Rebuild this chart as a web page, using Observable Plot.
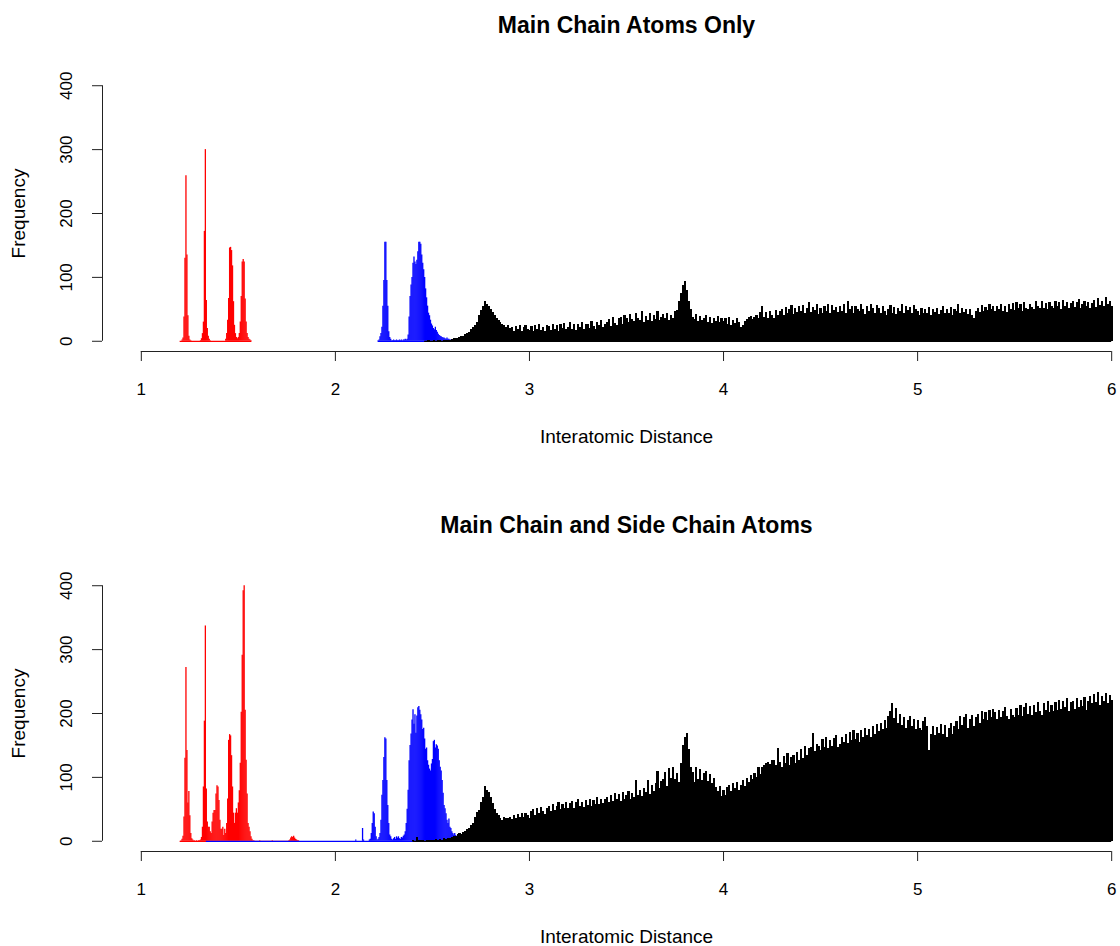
<!DOCTYPE html>
<html><head><meta charset="utf-8">
<script src="https://cdn.jsdelivr.net/npm/d3@7"></script>
<script src="https://cdn.jsdelivr.net/npm/@observablehq/plot@0.6"></script>
<style>
html,body{margin:0;padding:0;background:#fff;overflow:hidden;}
#chart{width:1120px;height:946px;overflow:hidden;position:relative;background:#fff;}
#chart svg{display:block;max-width:none !important;}
</style></head><body><div id="chart"></div>
<script>
// ---------- data ----------
const xTicks = [1, 2, 3, 4, 5, 6];
const yTicks = [0, 100, 200, 300, 400];
const titles = ["Main Chain Atoms Only", "Main Chain and Side Chain Atoms"];
const xLabel = "Interatomic Distance";
const yLabel = "Frequency";

const fineStep = 0.005;   // bin width of coloured series
const coarseStep = 0.01;  // bin width of black series

// Top panel
const topRedStart = 1.20;
const topRed = [0,0,2,5,38,130,259,135,40,8,2,1,
  0,0,0,0,0,0,0,0,0,
  1,4,12,30,172,300,64,20,8,3,1,
  0,0,0,0,0,0,0,0,0,0,0,0,0,0,0,
  3,12,33,67,146,147,142,118,62,25,12,6,4,
  6,12,30,70,124,128,124,66,30,12,6,3,2,1,0];
const topBlueStart = 2.22;
const topBlue = [1,2,7,12,22,55,95,155,155,95,55,15,6,3,1,
  1,2,1,1,2,1,1,2,1,2,1,2,2,3,2,
  3,10,38,70,88,100,122,132,124,120,127,140,155,155,152,135,122,112,100,82,68,55,44,40,33,27,24,20,18,22,17,14,11,9,8,7,6,5,5,4,3,5,3,
  3,2,2,1,2,1,1,1,2,1,1,0,1,1,0,1,0,1,0,1,0,0,1,0];
const topBlackStart = 2.46;
const topBlack = [0,0,1,0,0,1,0,1,1,0,1,2,1,2,
  3,4,5,5,6,8,7,10,12,14,
  18,22,25,30,40,48,55,62,58,55,
  50,45,40,36,33,30,26,24,22,24,
  20,22,16,23,18,24,15,21,25,18,
  17,23,15,24,19,26,17,22,16,25,
  23,17,27,19,25,16,26,20,28,18,
  21,29,19,26,17,27,22,30,18,26,
  27,20,31,23,19,29,24,32,21,27,
  29,34,23,37,28,25,35,38,27,40,
  35,29,42,34,31,44,36,33,46,30,
  39,33,43,31,41,34,47,32,38,42,
  35,44,32,41,36,46,48,62,75,88,
  93,80,62,50,38,34,42,31,39,33,
  35,40,30,38,28,36,31,39,29,35,
  31,35,26,37,25,32,28,36,29,22,
  25,31,34,37,39,34,38,41,35,45,
  54,38,45,36,47,40,35,48,41,46,
  50,40,53,44,49,56,42,51,45,55,
  47,56,43,52,60,45,53,48,57,42,
  52,44,55,47,58,43,56,48,53,45,
  55,46,58,44,62,49,55,43,54,50,
  46,57,49,42,55,47,58,52,44,56,
  51,43,55,47,41,50,56,44,53,42,
  52,46,57,43,54,48,53,44,56,49,
  47,41,52,44,50,43,53,40,49,45,
  52,42,48,55,43,50,44,53,41,49,
  46,57,43,51,45,50,42,49,40,35,
  47,52,45,56,46,53,48,57,49,54,
  46,55,49,58,47,54,45,57,50,59,
  48,60,51,57,47,61,52,49,58,53,
  50,62,54,51,63,52,59,49,61,54,
  51,63,55,60,50,64,54,61,52,59,
  62,53,60,65,52,58,63,54,61,51,
  59,64,53,67,56,62,54,68,57,63,
  55];

// Bottom panel
const botRedStart = 1.20;
const botRed = [0,1,3,8,38,130,272,142,60,78,40,12,
  4,2,1,1,0,1,0,1,1,
  2,6,22,85,188,337,
  82,30,22,22,15,12,30,44,48,48,74,87,85,64,33,19,19,22,9,19,12,28,
  66,158,167,165,134,85,44,28,44,51,44,60,79,122,202,291,392,400,205,127,74,28,22,15,7,3,1,1,
  0,0,0,0,0,1,0,0,0,0,0,0,0,0,0,0,0,0,1,0,0,0,0,0,0,0,0,0,0,0,0,0,0,0,0,1,
  2,5,7,6,8,5,3,2,1,1];
const botBlueStart = 2.10;
const botBlueBaseFrom = 1.335;
const botBlue = [0,2,0,0,0,0,0,0,20,2,0,0,0,0,0,2,
  3,12,28,46,43,22,7,2,3,6,12,33,72,95,131,162,160,95,56,28,10,7,3,2,4,6,3,7,5,7,4,3,6,5,8,10,
  15,28,50,80,126,150,168,190,206,183,198,169,196,209,211,205,198,190,175,177,160,144,146,126,119,113,110,121,128,156,158,146,151,149,144,126,116,110,95,75,56,51,43,33,28,35,22,20,15,12,10,12,9,7,8,7,6,5,
  5,6,12,6,5,4,3,2,2,2,1];
const botBlackStart = 2.40;
const botBlack = [1,0,6,1,2,1,0,2,1,2,
  2,1,3,2,3,2,4,3,5,4,
  6,7,8,10,12,11,14,15,18,20,
  24,28,38,45,48,60,69,86,80,77,
  69,59,50,43,40,36,33,38,35,36,
  38,34,41,36,42,38,44,37,43,40,
  36,46,49,40,51,43,53,46,42,52,
  55,46,58,48,55,60,49,58,52,61,
  51,59,63,52,60,65,54,61,53,64,
  56,66,55,64,58,68,57,66,59,65,
  68,60,72,62,75,65,73,63,76,66,
  72,78,66,75,69,95,72,80,70,83,
  76,95,74,88,78,90,110,82,93,97,
  108,86,114,98,116,96,106,92,121,150,
  163,169,144,116,108,92,115,97,113,95,
  106,110,93,104,91,99,84,78,86,70,
  80,72,84,88,78,90,82,92,80,88,
  95,86,99,92,103,96,106,100,115,104,
  115,118,121,124,120,127,126,118,146,123,
  115,133,122,137,119,131,135,121,139,127,
  143,129,148,135,145,147,168,141,151,149,
  142,159,147,163,145,158,149,161,165,147,
  152,163,155,167,153,171,157,173,159,169,
  155,173,162,177,165,175,163,179,167,183,
  172,185,175,189,177,195,203,216,192,208,
  185,199,181,193,177,189,195,179,191,175,
  189,177,173,187,193,179,142,167,179,165,
  178,169,183,167,181,163,177,185,167,179,
  187,175,195,182,193,199,177,191,197,179,
  193,199,185,203,191,201,189,205,193,207,
  201,191,205,193,203,209,195,191,207,197,
  193,208,197,213,195,209,215,199,211,197,
  213,201,217,203,197,215,205,219,201,213,
  203,217,205,221,207,219,209,223,203,217,
  219,207,223,209,221,211,225,205,219,227,
  215,229,217,233,213,227,219,231,215,228,
  220];

// ---------- drawing ----------
const FONT = "'Liberation Sans', Arial, Helvetica, sans-serif";
const xDomain = [0.8, 6.2];
const yDomain = [-16, 416];

function rows(start, step, values) {
  return values.map((v, i) => ({x: +(start + i * step).toFixed(4), y: v}));
}

function seriesMarks(data, color, width, baseFrom, crisp) {
  const from = baseFrom ?? data[0].x;
  return [
    Plot.ruleY([0], {x1: from, x2: data[data.length - 1].x, stroke: color, strokeWidth: 1.3}),
    Plot.ruleX(data, {x: "x", y1: 0, y2: "y", stroke: color, strokeWidth: width,
      shapeRendering: crisp ? "crispEdges" : "auto"})
  ];
}

function panel(title, red, blue, black, height, blueBaseFrom) {
  const top = 75, bottom = 351;
  return Plot.plot({
    width: 1150, height,
    marginLeft: 102, marginRight: 0, marginTop: top, marginBottom: height - bottom,
    x: {domain: xDomain, axis: null},
    y: {domain: yDomain, axis: null},
    style: `max-width:none;background:white;color:black;font-family:${FONT};font-size:17px;overflow:visible;`,
    marks: [
      ...seriesMarks(red, "#ff0000", 1.3),
      ...seriesMarks(blue, "#0000ff", 1.3, blueBaseFrom),
      ...seriesMarks(black, "#000000", 2.2, undefined, true),
      // x axis
      Plot.ruleY([yDomain[0]], {x1: xTicks[0], x2: xTicks[xTicks.length - 1], stroke: "#222", strokeWidth: 1}),
      Plot.axisX(xTicks, {tickSize: 10, tickPadding: 21, fontSize: 17, label: null, stroke: "#222",
        fill: "black", tickFormat: d => String(d)}),
      // y axis
      Plot.ruleX([xDomain[0]], {y1: yTicks[0], y2: yTicks[yTicks.length - 1], stroke: "#222", strokeWidth: 1}),
      Plot.axisY(yTicks, {tickSize: 10, tickFormat: () => "", label: null, stroke: "#222"}),
      Plot.text(yTicks, {y: d => d, text: d => String(d), frameAnchor: "left", dx: -36,
        rotate: -90, textAnchor: "middle", lineAnchor: "middle", fontSize: 17, fill: "black"}),
      // labels
      Plot.text([title], {frameAnchor: "top", dy: -50, lineAnchor: "middle", fontSize: 23,
        fontWeight: "bold", fill: "black"}),
      Plot.text([xLabel], {frameAnchor: "bottom", dy: 85, lineAnchor: "middle", fontSize: 19, fill: "black"}),
      Plot.text([yLabel], {frameAnchor: "left", dx: -84, rotate: -90, lineAnchor: "middle",
        textAnchor: "middle", fontSize: 19, fill: "black"})
    ]
  });
}

const chart = document.getElementById("chart");
chart.appendChild(panel(titles[0],
  rows(topRedStart, fineStep, topRed),
  rows(topBlueStart, fineStep, topBlue),
  rows(topBlackStart, coarseStep, topBlack), 500));
chart.appendChild(panel(titles[1],
  rows(botRedStart, fineStep, botRed),
  rows(botBlueStart, fineStep, botBlue),
  rows(botBlackStart, coarseStep, botBlack), 446, botBlueBaseFrom));
</script>
</body></html>
